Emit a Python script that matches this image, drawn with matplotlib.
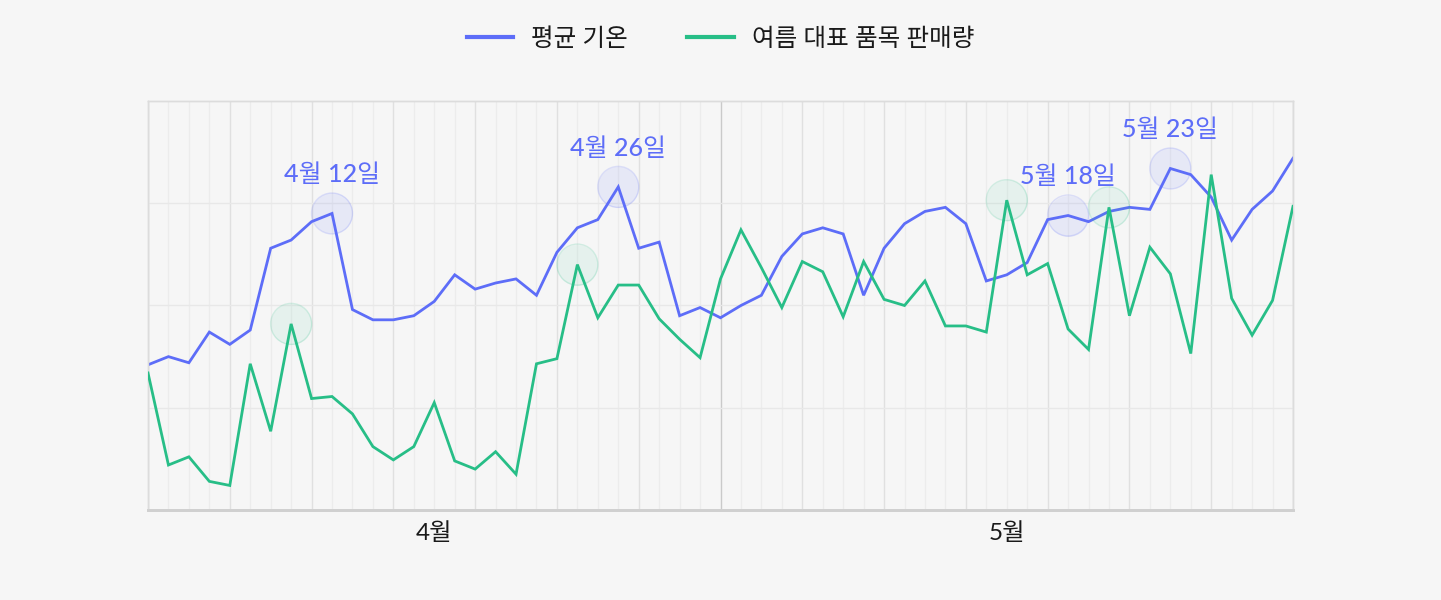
import datetime as dt
import matplotlib
matplotlib.use("Agg")
import matplotlib.pyplot as plt

plt.rcParams['font.family'] = ['Lato', 'Noto Sans CJK KR', 'DejaVu Sans']

# 4월 3일 ~ 5월 29일, 하루 단위
start = dt.date(2023, 4, 3)
dates = [start + dt.timedelta(days=i) for i in range(57)]

temp = [12.1, 12.5, 12.2, 13.7, 13.1, 13.8, 17.8, 18.2, 19.1, 19.5,
        14.8, 14.3, 14.3, 14.5, 15.2, 16.5, 15.8, 16.1, 16.3, 15.5,
        17.6, 18.8, 19.2, 20.8, 17.8, 18.1, 14.5, 14.9, 14.4, 15.0,
        15.5, 17.4, 18.5, 18.8, 18.5, 15.5, 17.8, 19.0, 19.6, 19.8,
        19.0, 16.2, 16.5, 17.1, 19.2, 19.4, 19.1, 19.6, 19.8, 19.7,
        21.7, 21.4, 20.3, 18.2, 19.7, 20.6, 22.2]

sales = [134, 44, 52, 28, 24, 143, 77, 182, 109, 111,
         94, 62, 49, 62, 105, 48, 40, 57, 35, 143,
         148, 240, 188, 220, 220, 187, 167, 149, 226, 274,
         237, 198, 243, 233, 189, 243, 206, 200, 224, 180,
         180, 174, 303, 230, 241, 177, 157, 296, 190, 257,
         231, 153, 328, 207, 171, 205, 297]

temp_marks = [dt.date(2023, 4, 12), dt.date(2023, 4, 26), dt.date(2023, 5, 18), dt.date(2023, 5, 23)]
sales_marks = [dt.date(2023, 4, 10), dt.date(2023, 4, 24), dt.date(2023, 5, 15), dt.date(2023, 5, 20)]

legend_labels = ["평균 기온", "여름 대표 품목 판매량"]

blue = "#5d6df8"
green = "#27be87"
bg = "#f6f6f6"

fig = plt.figure(figsize=(14.41, 6.0), dpi=100, facecolor=bg)
ax = fig.add_axes([148 / 1441, 1 - 510 / 600, 1145 / 1441, 409 / 600])
ax.set_facecolor(bg)
ax2 = ax.twinx()
ax2.patch.set_visible(False)

ax.set_xlim(dates[0], dates[-1])
ax.set_ylim(5, 25)
ax2.set_ylim(0, 400)

# 세로 격자: 매일 / 4일마다 / 월 경계
for i, d in enumerate(dates):
    if d.day == 1:
        c = "#cacaca"
    elif i % 4 == 0:
        c = "#e0e0e0"
    else:
        c = "#ececec"
    ax.axvline(d, color=c, lw=1, zorder=0)
for y in [10, 15, 20]:
    ax.axhline(y, color="#e8e8e8", lw=1, zorder=0)

ax.plot(dates, temp, color=blue, lw=2, solid_joinstyle="miter", zorder=3, label=legend_labels[0])
ax2.plot(dates, sales, color=green, lw=2, solid_joinstyle="miter", zorder=3, label=legend_labels[1])

for d in temp_marks:
    v = temp[dates.index(d)]
    ax.scatter([d], [v], s=870, color=blue, alpha=0.1, zorder=4, linewidths=0)
    ax.scatter([d], [v], s=870, facecolors="none", edgecolors=blue, alpha=0.18, lw=1, zorder=4)
    ax.annotate(f"{d.month}월 {d.day}일", (d, v), xytext=(0, 28), textcoords="offset points",
                ha="center", va="center", color=blue, fontsize=18, fontweight="medium", zorder=5)

for d in sales_marks:
    v = sales[dates.index(d)]
    ax2.scatter([d], [v], s=870, color=green, alpha=0.08, zorder=4, linewidths=0)
    ax2.scatter([d], [v], s=870, facecolors="none", edgecolors=green, alpha=0.18, lw=1, zorder=4)

# 월 라벨: 보이는 구간의 가운데
ticks, labels = [], []
months = sorted(set((d.year, d.month) for d in dates))
for y, m in months:
    a = max(dt.date(y, m, 1), dates[0])
    nxt = dt.date(y + (m == 12), m % 12 + 1, 1)
    b = min(nxt, dates[-1])
    ticks.append(a + (b - a) / 2)
    labels.append(f"{m}월")
ax.set_xticks(ticks)
ax.set_xticklabels(labels, fontsize=17.5, color="#1a1a1a")
ax.tick_params(axis="x", length=0, pad=9)
ax.set_yticks([])
ax2.set_yticks([])

for a in (ax, ax2):
    for s in ("left", "top", "right"):
        a.spines[s].set_color("#dcdcdc")
        a.spines[s].set_linewidth(1)
    a.spines["bottom"].set_color("#d0d0d0")
    a.spines["bottom"].set_linewidth(2)

h1, l1 = ax.get_legend_handles_labels()
h2, l2 = ax2.get_legend_handles_labels()
leg = fig.legend(h1 + h2, l1 + l2, loc="center", bbox_to_anchor=(0.5, 1 - 38 / 600), ncol=2,
                 frameon=False, fontsize=17.7, handlelength=1.9, handletextpad=0.73,
                 columnspacing=2.4)
for line in leg.get_lines():
    line.set_linewidth(3)
for t in leg.get_texts():
    t.set_color("#1a1a1a")
    t.set_fontweight("medium")

fig.savefig("out.png", dpi=100, facecolor=bg)
